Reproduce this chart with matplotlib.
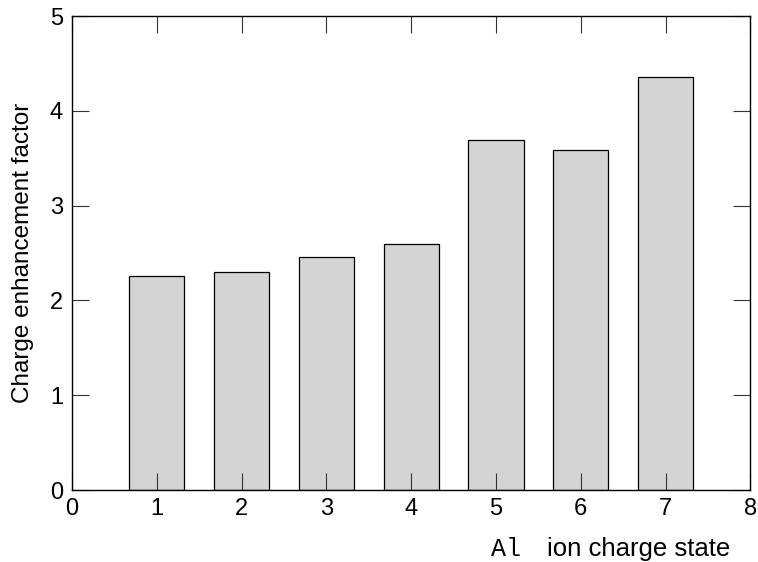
import matplotlib
matplotlib.use("Agg")
import matplotlib.pyplot as plt

charge_states = [1, 2, 3, 4, 5, 6, 7]
enhancement = [2.26, 2.30, 2.46, 2.595, 3.69, 3.59, 4.36]
x_ticks = [0, 1, 2, 3, 4, 5, 6, 7, 8]
y_ticks = [0, 1, 2, 3, 4, 5]

plt.rcParams['font.family'] = ['Liberation Sans', 'DejaVu Sans']

fig = plt.figure(figsize=(7.58, 5.62), dpi=100)
ax = fig.add_axes([0.095, 0.128, 0.895, 0.8435])

ax.bar(charge_states, enhancement, width=0.65, color='#d4d4d4',
       edgecolor='black', linewidth=0.9, zorder=1)

ax.set_xlim(0, 8)
ax.set_ylim(0, 5)
ax.set_xticks(x_ticks)
ax.set_yticks(y_ticks)
ax.tick_params(axis='both', direction='in', length=12.5, width=0.8,
               labelsize=17, top=True, right=True, color='#333333')
ax.tick_params(axis='x', pad=6)
ax.tick_params(axis='y', pad=6.5)
for t in ax.xaxis.get_major_ticks() + ax.yaxis.get_major_ticks():
    t.tick1line.set_zorder(3)
    t.tick2line.set_zorder(3)
ax.set_axisbelow(False)
for s in ax.spines.values():
    s.set_linewidth(1.0)
    s.set_zorder(4)

fig.text(0.030, 0.55, 'Charge enhancement factor', fontsize=17.5,
         rotation=90, ha='center', va='center')

fig.text(0.6478, 0.0098, 'Al', family=['Liberation Mono', 'DejaVu Sans Mono'],
         fontsize=18, ha='left', va='baseline')
fig.text(0.7216, 0.0098, 'ion charge state', fontsize=18.5,
         ha='left', va='baseline')

fig.savefig('out.png', dpi=100)
